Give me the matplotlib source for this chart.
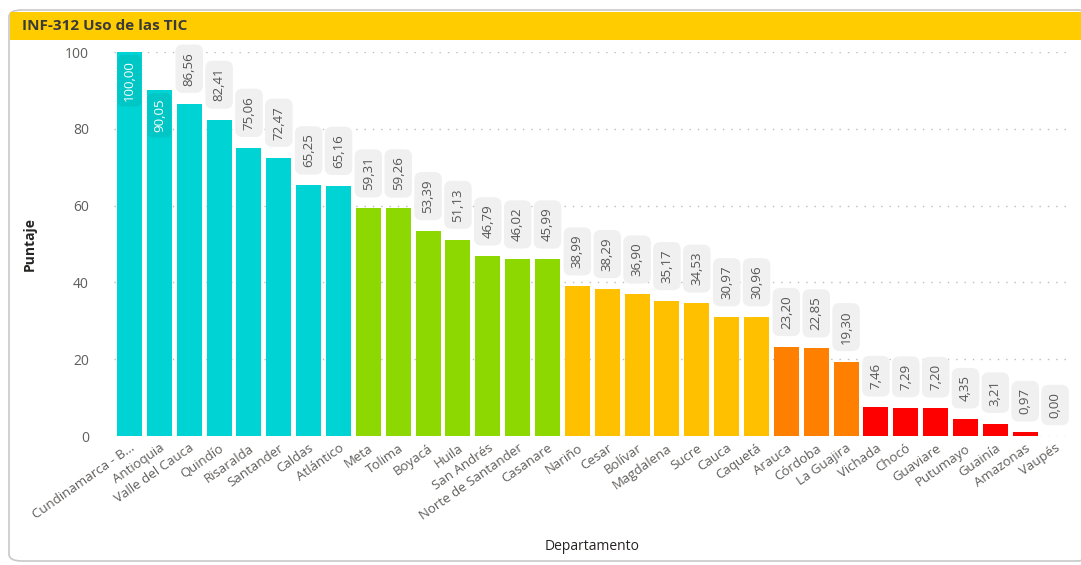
import matplotlib.pyplot as plt
from matplotlib.patches import FancyBboxPatch, Rectangle

plt.rcParams['font.family'] = ['Open Sans', 'DejaVu Sans']

departamentos = ['Cundinamarca - B...', 'Antioquia', 'Valle del Cauca', 'Quindío', 'Risaralda',
                 'Santander', 'Caldas', 'Atlántico', 'Meta', 'Tolima', 'Boyacá', 'Huila',
                 'San Andrés', 'Norte de Santander', 'Casanare', 'Nariño', 'Cesar', 'Bolívar',
                 'Magdalena', 'Sucre', 'Cauca', 'Caquetá', 'Arauca', 'Córdoba', 'La Guajira',
                 'Vichada', 'Chocó', 'Guaviare', 'Putumayo', 'Guainía', 'Amazonas', 'Vaupés']
puntaje = [100.00, 90.05, 86.56, 82.41, 75.06, 72.47, 65.25, 65.16, 59.31, 59.26, 53.39, 51.13,
           46.79, 46.02, 45.99, 38.99, 38.29, 36.90, 35.17, 34.53, 30.97, 30.96, 23.20, 22.85,
           19.30, 7.46, 7.29, 7.20, 4.35, 3.21, 0.97, 0.00]
grupo = [0] * 8 + [1] * 7 + [2] * 7 + [3] * 3 + [4] * 7
paleta = ['#00D3D3', '#8CD800', '#FFC000', '#FF8000', '#FF0000']
colores = [paleta[g] for g in grupo]

fig = plt.figure(figsize=(10.81, 5.65), dpi=100)

# card background and title bar
fig.patches.append(FancyBboxPatch((9 / 1081, 4 / 565), 1080 / 1081, 551 / 565,
                                  boxstyle='round,pad=0,rounding_size=0.012',
                                  transform=fig.transFigure, facecolor='white',
                                  edgecolor='#C8C8C8', lw=1.2, zorder=0))
fig.patches.append(Rectangle((10 / 1081, 525 / 565), 1071 / 1081, 28 / 565,
                             transform=fig.transFigure, facecolor='#FFCC00',
                             edgecolor='none', zorder=1))
fig.text(22 / 1081, 539 / 565, 'INF-312 Uso de las TIC', fontsize=11, fontweight='bold',
         color='#3A3A3A', va='center', ha='left')

ax = fig.add_axes([114 / 1081, 1 - 436 / 565, 956 / 1081, 384 / 565], zorder=3)
ax.set_facecolor('none')
x = list(range(len(departamentos)))
bars = ax.bar(x, puntaje, width=0.84, color=colores, zorder=2)

ax.set_xlim(-0.52, 31.5)
ax.set_ylim(0, 100)
ax.set_yticks([0, 20, 40, 60, 80, 100])
ax.tick_params(axis='y', length=0, labelsize=10, labelcolor='#605E5C', pad=18)
ax.set_xticks(x)
ax.set_xticklabels(departamentos, rotation=35, ha='right', rotation_mode='anchor',
                   fontsize=9.5, color='#605E5C')
ax.tick_params(axis='x', length=0, pad=4)
ax.grid(axis='y', linestyle=(0, (1, 5)), color='#BDBDBD', lw=1, zorder=0)
for s in ax.spines.values():
    s.set_visible(False)

ax.set_ylabel('Puntaje', fontsize=10, fontweight='bold', color='#252423', labelpad=20)
ax.set_xlabel('Departamento', fontsize=10, color='#252423', labelpad=12)

for i, v in enumerate(puntaje):
    txt = f'{v:.2f}'.replace('.', ',')
    if v >= 88:
        ax.annotate(txt, (i, v), xytext=(0, -6), textcoords='offset points',
                    rotation=90, ha='center', va='top', fontsize=9.5, color='white',
                    bbox=dict(boxstyle='round,pad=0.4', fc='#00C6C6', ec='none'),
                    zorder=3)
    else:
        ax.annotate(txt, (i, v), xytext=(0, 13), textcoords='offset points',
                    rotation=90, ha='center', va='bottom', fontsize=9.5, color='#555555',
                    bbox=dict(boxstyle='round,pad=0.55', fc='#F0F0F0', ec='none'),
                    zorder=3, annotation_clip=False)

fig.savefig('out.png', dpi=100)
